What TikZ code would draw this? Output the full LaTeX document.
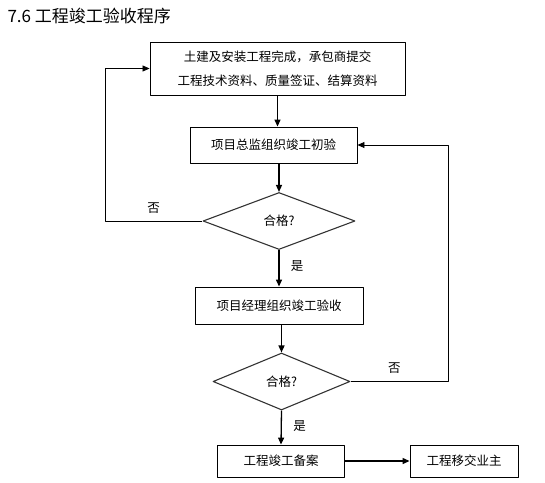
\documentclass[tikz,border=0pt]{standalone}
\usepackage{fontspec}
\setmainfont{Noto Sans CJK SC}
\usetikzlibrary{arrows.meta,shapes.geometric}
\begin{document}
\begin{tikzpicture}[x=1pt,y=-1pt,line join=round,
  font=\fontsize{12.5}{15}\selectfont,
  box/.style={draw,line width=0.9pt,inner sep=0pt},
  dia/.style={draw,diamond,line width=1.1pt,draw=black!80,inner sep=0pt},
  arr/.style={line width=1.3pt,-{Triangle[length=7pt,width=6pt]}},
  loop/.style={line width=0.8pt,-{Triangle[length=7pt,width=6pt]}}]
\useasboundingbox (0,0) rectangle (545,482);
\node[anchor=west,font=\fontsize{17}{20}\selectfont] (title) at (4,16) {7.6\ 工程竣工验收程序};
\node[box,minimum width=255pt,minimum height=53pt,align=center,font=\fontsize{12.5}{24}\selectfont] (b1) at (277.5,68.5)
  {土建及安装工程完成，承包商提交\\工程技术资料、质量签证、结算资料};
\node[box,minimum width=167pt,minimum height=36pt] (b2) at (273.5,145) {项目总监组织竣工初验};
\node[dia,minimum width=152pt,minimum height=57pt] (d1) at (279,221) {合格?};
\node[box,minimum width=168pt,minimum height=37pt] (b3) at (279,305.5) {项目经理组织竣工验收};
\node[dia,minimum width=137pt,minimum height=57pt] (d2) at (281.5,381.5) {合格?};
\node[box,minimum width=127pt,minimum height=32pt] (b4) at (281,461) {工程竣工备案};
\node[box,minimum width=108pt,minimum height=32pt] (b5) at (464,461) {工程移交业主};
\coordinate (lft) at (105,0);
\coordinate (rgt) at (448,0);
% main line
\draw[arr] (b1.south) -- (b1.south |- b2.north);
\draw[arr] (d1.north |- b2.south) -- (d1.north);
\draw[arr] (d1.south) -- (d1.south |- b3.north) node[pos=0.45,right=8pt] (y1) {是};
\draw[arr] (d2.north |- b3.south) -- (d2.north);
\draw[arr] (d2.south) -- (b4.north) node[pos=0.45,right=8pt] (y2) {是};
\draw[arr] (b4.east) -- (b5.west);
% back loops
\draw[loop] (d1.west) -- (d1.west -| lft) |- (b1.west);
\path (d1.west) -- (d1.west -| lft) node[pos=0.5,above=4pt] (n1) {否};
\draw[loop] (d2.east) -- (d2.east -| rgt) |- (b2.east);
\path (d2.east) -- (d2.east -| rgt) node[pos=0.45,above=4pt] (n2) {否};
\end{tikzpicture}
\end{document}
